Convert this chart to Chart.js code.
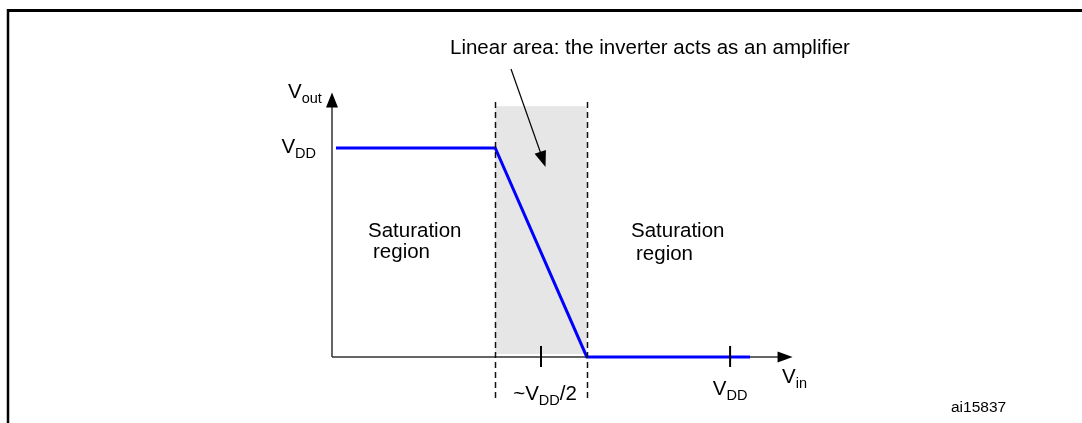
<!DOCTYPE html>
<html>
<head>
<meta charset="utf-8">
<script src="https://cdn.jsdelivr.net/npm/chart.js@4/dist/chart.umd.min.js"></script>
<style>
    html, body { margin: 0; padding: 0; background: #fff; }
    #wrap { width: 1082px; height: 423px; }
</style>
</head>
<body>
<div id="wrap"><canvas id="chart"></canvas></div>
<script>
// transfer curve, Vin / Vout in units of VDD
const vin = [0.01, 0.41, 0.64, 1.05];
const vout = [1, 1, 0, 0];

// linear region bounds on Vin
const linearRange = [0.41, 0.64];

// ticks, text between {} is a subscript
const xTicks = [0.525, 1];
const xTickLabels = ['~V{DD}/2', 'V{DD}'];
const yTicks = [1];
const yTickLabels = ['V{DD}'];
const xTitle = 'V{in}';
const yTitle = 'V{out}';

const FONT = '"Liberation Sans", Arial, Helvetica, sans-serif';
const MAIN = 20.5, SUB = 14.5, DROP = 5;

function drawRich(ctx, str, x, y, align, size, subSize) {
    size = size || MAIN; subSize = subSize || SUB;
    const parts = [];
    str.replace(/\{([^}]*)\}|([^{]+)/g, (m, sub, txt) => {
        parts.push(sub !== undefined ? {t: sub, sub: true} : {t: txt, sub: false});
    });
    let w = 0;
    parts.forEach(p => {
        ctx.font = (p.sub ? subSize : size) + 'px ' + FONT;
        p.w = ctx.measureText(p.t).width;
        w += p.w;
    });
    let cx = align === 'center' ? x - w / 2 : align === 'right' ? x - w : x;
    ctx.textAlign = 'left';
    ctx.textBaseline = 'alphabetic';
    parts.forEach(p => {
        ctx.font = (p.sub ? subSize : size) + 'px ' + FONT;
        ctx.fillText(p.t, cx, p.sub ? y + DROP : y);
        cx += p.w;
    });
}

function arrowHead(ctx, tx, ty, ang, len, half) {
    ctx.save();
    ctx.translate(tx, ty);
    ctx.rotate(ang);
    ctx.beginPath();
    ctx.moveTo(0, 0);
    ctx.lineTo(-len, -half);
    ctx.lineTo(-len, half);
    ctx.closePath();
    ctx.fill();
    ctx.restore();
}

const diagram = {
    id: 'diagram',
    beforeDatasetsDraw(chart) {
        const ctx = chart.ctx, x = chart.scales.x, y = chart.scales.y;
        ctx.save();

        // frame
        ctx.strokeStyle = '#000';
        ctx.lineWidth = 3;
        ctx.beginPath();
        ctx.moveTo(7, 10.5); ctx.lineTo(chart.width, 10.5);
        ctx.stroke();
        ctx.lineWidth = 2.5;
        ctx.beginPath();
        ctx.moveTo(8, 9); ctx.lineTo(8, chart.height);
        ctx.stroke();

        // linear area shading
        const l = x.getPixelForValue(linearRange[0]);
        const r = x.getPixelForValue(linearRange[1]);
        ctx.fillStyle = '#e6e6e6';
        ctx.fillRect(l, y.getPixelForValue(1.2), r - l, y.getPixelForValue(0.014) - y.getPixelForValue(1.2));

        // axes
        const x0 = x.getPixelForValue(0), y0 = y.getPixelForValue(0);
        const xEnd = x.getPixelForValue(1.157), yEnd = y.getPixelForValue(1.265);
        ctx.strokeStyle = '#333';
        ctx.fillStyle = '#000';
        ctx.lineWidth = 1.5;
        ctx.beginPath();
        ctx.moveTo(x0, y0); ctx.lineTo(xEnd - 12, y0);
        ctx.moveTo(x0, y0); ctx.lineTo(x0, yEnd + 12);
        ctx.stroke();
        arrowHead(ctx, xEnd, y0, 0, 15, 5.5);
        arrowHead(ctx, x0, yEnd, -Math.PI / 2, 15, 6);
        ctx.restore();
    },
    afterDatasetsDraw(chart) {
        const ctx = chart.ctx, x = chart.scales.x, y = chart.scales.y;
        ctx.save();
        const y0 = y.getPixelForValue(0);

        // dashed bounds of linear area
        ctx.strokeStyle = '#111';
        ctx.lineWidth = 1.5;
        ctx.setLineDash([6, 4]);
        linearRange.forEach(v => {
            const px = Math.round(x.getPixelForValue(v)) + 0.5;
            ctx.beginPath();
            ctx.moveTo(px, y.getPixelForValue(1.22));
            ctx.lineTo(px, y.getPixelForValue(-0.2));
            ctx.stroke();
        });
        ctx.setLineDash([]);

        // ticks on Vin axis
        ctx.strokeStyle = '#000';
        ctx.lineWidth = 2;
        xTicks.forEach(v => {
            const px = x.getPixelForValue(v);
            ctx.beginPath();
            ctx.moveTo(px, y0 - 11); ctx.lineTo(px, y0 + 10);
            ctx.stroke();
        });

        ctx.fillStyle = '#000';
        // tick labels
        const xLabelBase = [400, 395];
        xTicks.forEach((v, i) => drawRich(ctx, xTickLabels[i], x.getPixelForValue(v) + (i === 0 ? 4 : 0), xLabelBase[i], 'center'));
        yTicks.forEach((v, i) => drawRich(ctx, yTickLabels[i], 316, y.getPixelForValue(v) + 5, 'right'));

        // axis titles
        drawRich(ctx, xTitle, 782, 383, 'left');
        drawRich(ctx, yTitle, 288, 98, 'left');

        // region labels
        ctx.font = MAIN + 'px ' + FONT;
        ctx.textAlign = 'left';
        ctx.fillText('Saturation', 368, 237);
        ctx.fillText('region', 373, 258);
        ctx.fillText('Saturation', 631, 237);
        ctx.fillText('region', 636, 260);

        // linear area note with its arrow
        ctx.fillText('Linear area: the inverter acts as an amplifier', 450, 54);
        ctx.strokeStyle = '#000';
        ctx.lineWidth = 1.2;
        ctx.beginPath();
        ctx.moveTo(511, 69);
        ctx.lineTo(541, 154);
        ctx.stroke();
        arrowHead(ctx, 545.5, 167, Math.atan2(98, 34), 16, 6);

        // figure id
        ctx.font = '15.5px ' + FONT;
        ctx.fillText('ai15837', 951, 412);
        ctx.restore();
    }
};

new Chart(document.getElementById('chart'), {
    type: 'line',
    data: {
        datasets: [{
            data: vin.map((v, i) => ({x: v, y: vout[i]})),
            borderColor: '#0000ff',
            borderWidth: 3,
            pointRadius: 0,
            tension: 0,
            fill: false
        }]
    },
    options: {
        responsive: true,
        maintainAspectRatio: false,
        animation: false,
        layout: {padding: 0},
        plugins: {legend: {display: false}, tooltip: {enabled: false}},
        scales: {
            x: {type: 'linear', min: -0.834, max: 1.884, display: false},
            y: {type: 'linear', min: -0.316, max: 1.708, display: false}
        }
    },
    plugins: [diagram]
});
</script>
</body>
</html>
